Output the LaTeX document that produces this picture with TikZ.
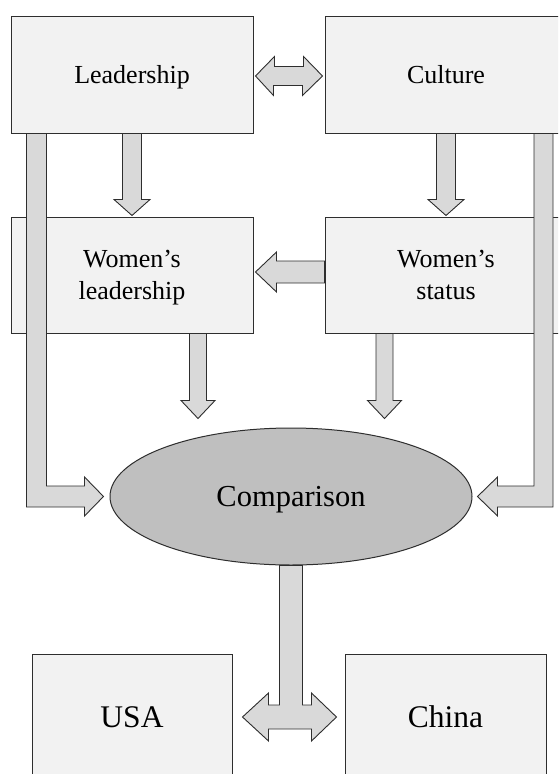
\documentclass[tikz,border=0pt]{standalone}
\usepackage{fontspec}
\setmainfont{Liberation Serif}
\usetikzlibrary{calc,shapes.geometric}
\definecolor{boxfill}{HTML}{F2F2F2}
\definecolor{arrfill}{HTML}{D9D9D9}
\definecolor{ellfill}{HTML}{BFBFBF}
\definecolor{edge}{HTML}{2E2E2E}
\tikzset{
  box/.style={draw=edge, line width=1pt, fill=boxfill, rectangle, inner sep=0pt,
              minimum width=242pt, minimum height=117pt, align=center,
              text height=17pt, text depth=0pt,
              font=\fontsize{26}{32}\selectfont},
  twoline/.style={box, minimum height=116pt, text height=48pt, text depth=0pt},
  smallbox/.style={box, minimum width=201pt, minimum height=126pt,
              text height=21pt, text depth=0pt,
              font=\fontsize{31.5}{36}\selectfont},
  blk/.style={draw=edge, line width=0.9pt, fill=arrfill, line join=miter},
  cmpnode/.style={draw=edge, line width=1pt, fill=ellfill, ellipse, inner sep=0pt,
              minimum width=362pt, minimum height=137pt,
              text height=20pt, text depth=0pt,
              font=\fontsize{30.5}{36}\selectfont}
}
\begin{document}
\begin{tikzpicture}[x=1pt,y=-1pt]
\useasboundingbox (0,0) rectangle (558,774);
\clip (0,0) rectangle (558,774);
\fill[white] (0,0) rectangle (558,774);

% boxes
\node[box] (lead) at (132,74.5) {Leadership};
\node[box] (cult) at (446,74.5) {Culture};
\node[twoline] (wl) at (132,275) {Women’s\\leadership};
\node[twoline] (ws) at (446,275) {Women’s\\status};
\node[smallbox, minimum width=200pt] (usa) at (132,717) {USA};
\node[smallbox] (china) at (445.5,717) {China};
\node[cmpnode] (cmp) at (291,496.5) {Comparison};

% Leadership <-> Culture
\draw[blk] ($(lead.east)+(2,1.5)$) -- ++(19,-19.5) -- ++(0,10) -- ++(29,0) -- ++(0,-10)
  -- ($(cult.west)+(-2,1.5)$) -- ++(-20,19.5) -- ++(0,-10) -- ++(-29,0) -- ++(0,10) -- cycle;

% Leadership -> Women's leadership
\draw[blk] ($(lead.south)+(-9.5,0)$) -- ($(wl.north)+(-9.5,-17)$) -- ($(wl.north)+(-18,-17)$)
  -- ($(wl.north)+(0,-1)$) -- ($(wl.north)+(18,-17)$) -- ($(wl.north)+(9.5,-17)$)
  -- ($(lead.south)+(9.5,0)$) -- cycle;

% Culture -> Women's status
\draw[blk] ($(cult.south)+(-9.5,0)$) -- ($(ws.north)+(-9.5,-17)$) -- ($(ws.north)+(-18,-17)$)
  -- ($(ws.north)+(0,-1)$) -- ($(ws.north)+(18,-17)$) -- ($(ws.north)+(9.5,-17)$)
  -- ($(cult.south)+(9.5,0)$) -- cycle;

% Women's status -> Women's leadership
\draw[blk] ($(ws.west)+(0,-14)$) -- ($(wl.east)+(23,-14)$) -- ($(wl.east)+(23,-23)$)
  -- ($(wl.east)+(2,-3)$) -- ($(wl.east)+(23,17)$) -- ($(wl.east)+(23,8)$)
  -- ($(ws.west)+(0,8)$) -- cycle;

% Women's leadership -> Comparison
\draw[blk] ($(wl.south)+(57.5,0)$) -- ($(wl.south)+(57.5,67)$) -- ($(wl.south)+(49,67)$)
  -- ($(wl.south)+(66,85)$) -- ($(wl.south)+(83,67)$) -- ($(wl.south)+(74.5,67)$)
  -- ($(wl.south)+(74.5,0)$) -- cycle;

% Women's status -> Comparison
\draw[blk] ($(ws.south)+(-70,0)$) -- ($(ws.south)+(-70,67)$) -- ($(ws.south)+(-78.5,67)$)
  -- ($(ws.south)+(-61.5,85)$) -- ($(ws.south)+(-44.5,67)$) -- ($(ws.south)+(-53,67)$)
  -- ($(ws.south)+(-53,0)$) -- cycle;

% Leadership -> Comparison (bent)
\draw[blk] ($(lead.south west)+(36,0)$) |- ($(cmp.west)+(-25,-10.5)$) -- ++(0,-9)
  -- ($(cmp.west)+(-6,0)$) -- ($(cmp.west)+(-25,19.5)$) -- ++(0,-9)
  -| ($(lead.south west)+(16,0)$) -- cycle;

% Culture -> Comparison (bent)
\draw[blk] ($(cult.south)+(88,0)$) |- ($(cmp.east)+(25,-10.5)$) -- ++(0,-9)
  -- ($(cmp.east)+(5,0)$) -- ($(cmp.east)+(25,19.5)$) -- ++(0,-9)
  -| ($(cult.south)+(107,0)$) -- cycle;

% Comparison -> USA / China
\draw[blk] ($(cmp.south)+(11.5,0)$) |- ($(china.west)+(-33,-12)$) -- ++(0,-12)
  -- ($(china.west)+(-8,0)$) -- ($(china.west)+(-33,24)$) -- ++(0,-12)
  -- ($(usa.east)+(36,12)$) -- ++(0,12) -- ($(usa.east)+(10,0)$)
  -- ($(usa.east)+(36,-24)$) -- ++(0,12) -| ($(cmp.south)+(-11.5,0)$) -- cycle;
\end{tikzpicture}
\end{document}
